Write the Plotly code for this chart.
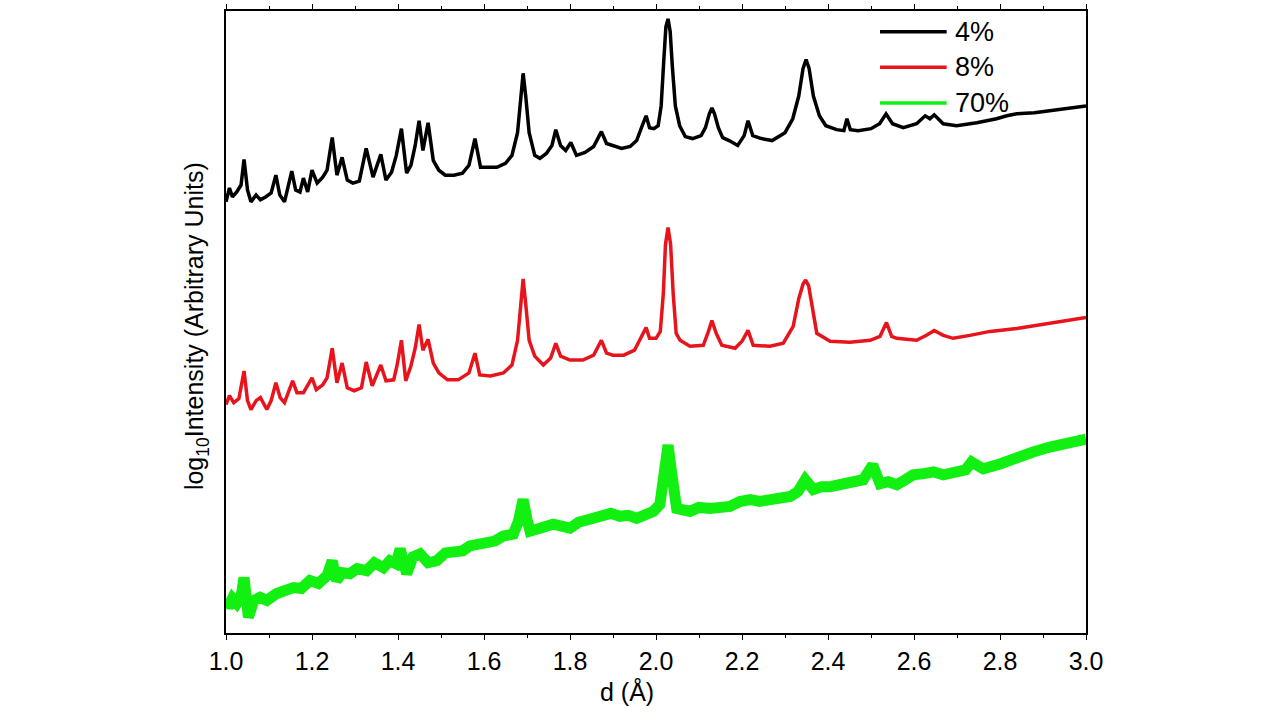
import plotly.graph_objects as go

# ---- data (d in Å, y = reading in picture rows, converted below) ----
d_4 = [1.000, 1.008, 1.015, 1.025, 1.035, 1.042, 1.050, 1.058, 1.070, 1.080, 1.092, 1.105, 1.116,
       1.125, 1.136, 1.145, 1.153, 1.162, 1.172, 1.180, 1.190, 1.200, 1.212, 1.225, 1.235, 1.247,
       1.258, 1.270, 1.282, 1.295, 1.310, 1.326, 1.342, 1.360, 1.372, 1.385, 1.396, 1.408, 1.420,
       1.430, 1.440, 1.449, 1.458, 1.470, 1.482, 1.495, 1.510, 1.530, 1.550, 1.565, 1.579, 1.592,
       1.610, 1.630, 1.650, 1.665, 1.678, 1.685, 1.691, 1.697, 1.705, 1.718, 1.730, 1.745, 1.758,
       1.767, 1.778, 1.790, 1.802, 1.815, 1.835, 1.855, 1.873, 1.885, 1.900, 1.920, 1.940, 1.955,
       1.968, 1.977, 1.985, 1.995, 2.005, 2.012, 2.018, 2.023, 2.028, 2.033, 2.038, 2.045, 2.055,
       2.068, 2.085, 2.105, 2.115, 2.124, 2.130, 2.136, 2.145, 2.155, 2.170, 2.190, 2.205, 2.214,
       2.225, 2.245, 2.270, 2.300, 2.318, 2.332, 2.342, 2.349, 2.356, 2.366, 2.380, 2.395, 2.420,
       2.437, 2.444, 2.452, 2.470, 2.500, 2.520, 2.535, 2.550, 2.575, 2.606, 2.626, 2.637, 2.647,
       2.668, 2.699, 2.746, 2.792, 2.816, 2.839, 2.880, 2.916, 2.960, 3.000]
row_4 = [197, 183, 192, 187, 180, 154, 185, 197, 190, 195, 192, 188, 170,
         190, 197, 182, 166, 185, 187, 173, 187, 165, 178, 172, 165, 132,
         170, 152, 175, 178, 176, 143, 172, 149, 175, 167, 150, 123, 168,
         160, 140, 115, 145, 117, 155, 165, 170, 170, 168, 160, 133, 162,
         162, 162, 158, 150, 127, 90, 67, 90, 127, 150, 153, 148, 140,
         124, 140, 145, 137, 150, 147, 141, 126, 138, 140, 143, 141, 135,
         120, 110, 122, 123, 120, 100, 55, 20, 12, 25, 60, 100, 120,
         131, 133, 130, 122, 108, 102, 108, 122, 132, 135, 140, 130, 115,
         130, 133, 135, 127, 113, 90, 62, 53, 62, 90, 110, 120, 124,
         125, 113, 124, 125, 123, 118, 108, 118, 122, 118, 110, 113, 109,
         118, 120, 117, 113, 110, 108, 107, 105, 103, 100]

d_8 = [1.000, 1.008, 1.018, 1.030, 1.042, 1.050, 1.058, 1.070, 1.080, 1.095, 1.105, 1.116, 1.126,
       1.136, 1.155, 1.165, 1.180, 1.200, 1.210, 1.225, 1.235, 1.247, 1.258, 1.270, 1.282, 1.298,
       1.315, 1.326, 1.340, 1.360, 1.372, 1.390, 1.398, 1.408, 1.418, 1.430, 1.440, 1.449, 1.458,
       1.470, 1.482, 1.495, 1.515, 1.540, 1.565, 1.579, 1.590, 1.615, 1.645, 1.665, 1.678, 1.685,
       1.691, 1.697, 1.705, 1.718, 1.738, 1.755, 1.767, 1.778, 1.800, 1.830, 1.855, 1.873, 1.885,
       1.900, 1.925, 1.950, 1.965, 1.977, 1.985, 2.000, 2.010, 2.017, 2.022, 2.028, 2.034, 2.040,
       2.047, 2.056, 2.079, 2.110, 2.122, 2.130, 2.140, 2.153, 2.184, 2.200, 2.214, 2.226, 2.265,
       2.296, 2.319, 2.332, 2.342, 2.348, 2.355, 2.365, 2.374, 2.405, 2.451, 2.498, 2.521, 2.536,
       2.548, 2.560, 2.606, 2.629, 2.647, 2.668, 2.691, 2.730, 2.777, 2.839, 2.916, 3.000]
row_8 = [402, 393, 400, 396, 368, 398, 407, 398, 395, 407, 398, 380, 395,
         400, 378, 390, 390, 375, 387, 382, 375, 345, 380, 360, 385, 388,
         385, 359, 383, 362, 378, 377, 362, 337, 378, 363, 345, 321, 347,
         336, 360, 370, 377, 377, 370, 350, 372, 373, 370, 362, 337, 300,
         275, 300, 337, 353, 362, 355, 340, 353, 357, 357, 352, 337, 350,
         352, 352, 347, 335, 324, 335, 335, 328, 290, 240, 223, 240, 290,
         330, 337, 343, 342, 328, 317, 330, 342, 345, 338, 327, 342, 343,
         340, 323, 295, 280, 276, 282, 305, 330, 338, 339, 337, 333, 319,
         333, 335, 337, 332, 327, 332, 335, 332, 328, 325, 320, 314]

d_70 = [1.000, 1.005, 1.015, 1.025, 1.035, 1.042, 1.052, 1.065, 1.079, 1.095, 1.118, 1.135, 1.157,
        1.175, 1.195, 1.215, 1.235, 1.247, 1.257, 1.270, 1.288, 1.305, 1.327, 1.345, 1.366, 1.381,
        1.395, 1.405, 1.420, 1.435, 1.451, 1.470, 1.490, 1.510, 1.529, 1.550, 1.567, 1.585, 1.606,
        1.625, 1.645, 1.668, 1.680, 1.691, 1.700, 1.707, 1.730, 1.745, 1.761, 1.780, 1.800, 1.820,
        1.839, 1.860, 1.877, 1.895, 1.916, 1.935, 1.955, 1.975, 1.994, 2.009, 2.021, 2.028, 2.036,
        2.048, 2.079, 2.100, 2.126, 2.150, 2.172, 2.195, 2.219, 2.240, 2.265, 2.290, 2.312, 2.330,
        2.347, 2.366, 2.385, 2.405, 2.430, 2.451, 2.482, 2.504, 2.521, 2.540, 2.560, 2.580, 2.598,
        2.620, 2.645, 2.668, 2.699, 2.720, 2.734, 2.761, 2.800, 2.839, 2.877, 2.916, 2.955, 3.000]
row_70 = [600, 607, 598, 603, 596, 577, 617, 600, 597, 600, 593, 590, 587,
          588, 580, 583, 575, 560, 580, 572, 573, 568, 570, 562, 567, 560,
          563, 548, 573, 556, 553, 562, 560, 552, 550, 550, 545, 544, 542,
          540, 535, 533, 520, 498, 518, 530, 527, 524, 523, 525, 527, 521,
          518, 516, 513, 512, 515, 514, 517, 512, 510, 503, 470, 443, 470,
          507, 510, 506, 507, 505, 505, 500, 498, 500, 498, 494, 495, 490,
          478, 488, 485, 485, 482, 482, 478, 463, 482, 480, 483, 478, 473,
          472, 470, 473, 470, 468, 460, 467, 462, 455, 450, 445, 440, 437]

labels = ["4%", "8%", "70%"]
colors = ["#000000", "#e8141c", "#12f012"]


def to_level(rows):
    # picture rows -> offset log10 intensity (arbitrary units, bottom of axes = 0)
    return [round((633 - r) / 100, 3) for r in rows]


series = [(d_4, row_4), (d_8, row_8), (d_70, row_70)]
widths = [3.5, 3.5, 11]

fig = go.Figure()
for (dx, rows), lab, col, w in zip(series, labels, colors, widths):
    fig.add_trace(go.Scatter(x=dx, y=to_level(rows), mode="lines", name=lab,
                             line=dict(color=col, width=w), showlegend=False))

font = "Arial, Liberation Sans, sans-serif"
fig.update_layout(
    width=1280, height=720,
    margin=dict(l=226, r=194, t=4, b=87),
    paper_bgcolor="white", plot_bgcolor="white",
    font=dict(family=font, color="black", size=25),
    showlegend=False,
)
fig.update_xaxes(range=[1.0, 3.0], dtick=0.2, tick0=1.0, tickformat=".1f",
                 showline=True, linecolor="black", linewidth=1.5, mirror="ticks",
                 ticks="outside", ticklen=5, tickwidth=1.2, tickcolor="black",
                 minor=dict(dtick=0.1, ticks="outside", ticklen=3, tickwidth=1.2, tickcolor="black"),
                 showgrid=False, zeroline=False,
                 tickfont=dict(size=25, family=font))
fig.update_yaxes(range=[0, 6.29], showline=True, linecolor="black", linewidth=1.5, mirror=True,
                 ticks="", showticklabels=False, showgrid=False, zeroline=False)

# axis titles
fig.add_annotation(x=0.466, y=-0.068, xref="paper", yref="paper", text="d (Å)",
                   showarrow=False, xanchor="center", yanchor="top", font=dict(size=25))
fig.add_annotation(x=-0.034, y=0.493, xref="paper", yref="paper",
                   text="log<sub>10</sub>Intensity (Arbitrary Units)", textangle=-90,
                   showarrow=False, xanchor="center", yanchor="middle", font=dict(size=25))

# legend (long sample lines as in the reference)
leg_y = [0.9666, 0.9094, 0.8521]
for lab, col, yy in zip(labels, colors, leg_y):
    fig.add_shape(type="line", xref="paper", yref="paper", x0=0.7605, x1=0.838, y0=yy, y1=yy,
                  line=dict(color=col, width=3.5))
    fig.add_annotation(x=0.8453, y=yy, xref="paper", yref="paper", text=lab, showarrow=False,
                       xanchor="left", yanchor="middle", font=dict(size=27))

fig.write_html("out.html")
